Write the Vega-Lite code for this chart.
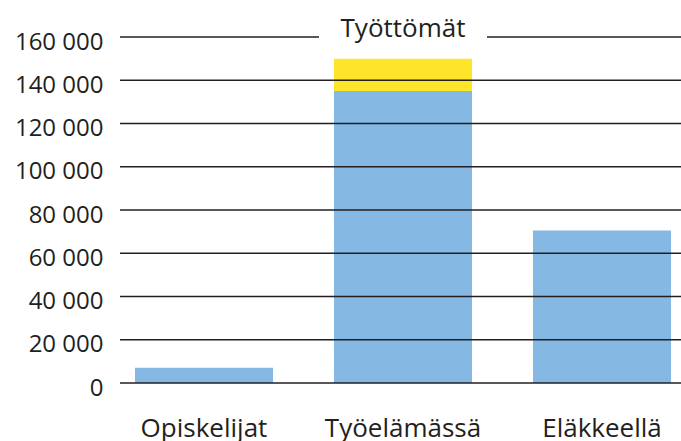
{
  "$schema": "https://vega.github.io/schema/vega-lite/v6.json",
  "width": 561,
  "height": 346,
  "autosize": {"type": "none"},
  "padding": {"left": 120, "top": 37, "right": 0, "bottom": 58},
  "background": "white",
  "datasets": {
    "palkit": [
      {"kategoria": "Opiskelijat", "osa": "Muut", "arvo": 7000},
      {"kategoria": "Työelämässä", "osa": "Muut", "arvo": 135000},
      {"kategoria": "Työelämässä", "osa": "Työttömät", "arvo": 15000},
      {"kategoria": "Eläkkeellä", "osa": "Muut", "arvo": 70500}
    ],
    "viivat": [
      {"arvo": 0}, {"arvo": 20000}, {"arvo": 40000}, {"arvo": 60000}, {"arvo": 80000},
      {"arvo": 100000}, {"arvo": 120000}, {"arvo": 140000}, {"arvo": 160000}
    ],
    "otsikko": [
      {"kategoria": "Työelämässä", "arvo": 160000, "teksti": "Työttömät"}
    ]
  },
  "encoding": {
    "x": {
      "field": "kategoria",
      "type": "nominal",
      "sort": ["Opiskelijat", "Työelämässä", "Eläkkeellä"],
      "scale": {"domain": ["Opiskelijat", "Työelämässä", "Eläkkeellä"], "paddingInner": 0.3065, "paddingOuter": 0.0628, "align": 0.6},
      "axis": {
        "title": null,
        "labelAngle": 0,
        "labelFont": "Open Sans",
        "labelFontSize": 26,
        "labelColor": "#231f20",
        "labelBaseline": "alphabetic",
        "labelPadding": 53,
        "ticks": false,
        "tickSize": 0,
        "domain": false,
        "grid": false
      }
    }
  },
  "layer": [
    {
      "data": {"name": "palkit"},
      "mark": {"type": "bar"},
      "encoding": {
        "y": {
          "field": "arvo",
          "type": "quantitative",
          "stack": "zero",
          "scale": {"domain": [0, 160000], "nice": false},
          "axis": {
            "title": null,
            "values": [0, 20000, 40000, 60000, 80000, 100000, 120000, 140000, 160000],
            "labelExpr": "replace(format(datum.value, ','), ',', ' ')",
            "labelFont": "Open Sans",
            "labelFontSize": 24,
            "labelColor": "#231f20",
            "labelBaseline": "alphabetic",
            "labelOffset": 12,
            "labelPadding": 17,
            "ticks": false,
            "tickSize": 0,
            "domain": false,
            "grid": false
          }
        },
        "color": {
          "field": "osa",
          "type": "nominal",
          "scale": {"domain": ["Muut", "Työttömät"], "range": ["#85b8e3", "#ffe52a"]},
          "legend": null
        },
        "order": {"field": "osa", "sort": "ascending"}
      }
    },
    {
      "data": {"name": "viivat"},
      "mark": {"type": "rule", "color": "#231f20", "strokeWidth": 1.3},
      "encoding": {
        "x": null,
        "y": {"field": "arvo", "type": "quantitative"}
      }
    },
    {
      "data": {"name": "otsikko"},
      "mark": {"type": "tick", "color": "white", "size": 168, "thickness": 5, "opacity": 1},
      "encoding": {
        "y": {"field": "arvo", "type": "quantitative"}
      }
    },
    {
      "data": {"name": "otsikko"},
      "mark": {"type": "text", "font": "Open Sans", "fontSize": 26, "color": "#231f20", "baseline": "alphabetic", "align": "center", "dy": 0},
      "encoding": {
        "y": {"field": "arvo", "type": "quantitative"},
        "text": {"field": "teksti"}
      }
    }
  ],
  "config": {
    "view": {"stroke": null}
  }
}
